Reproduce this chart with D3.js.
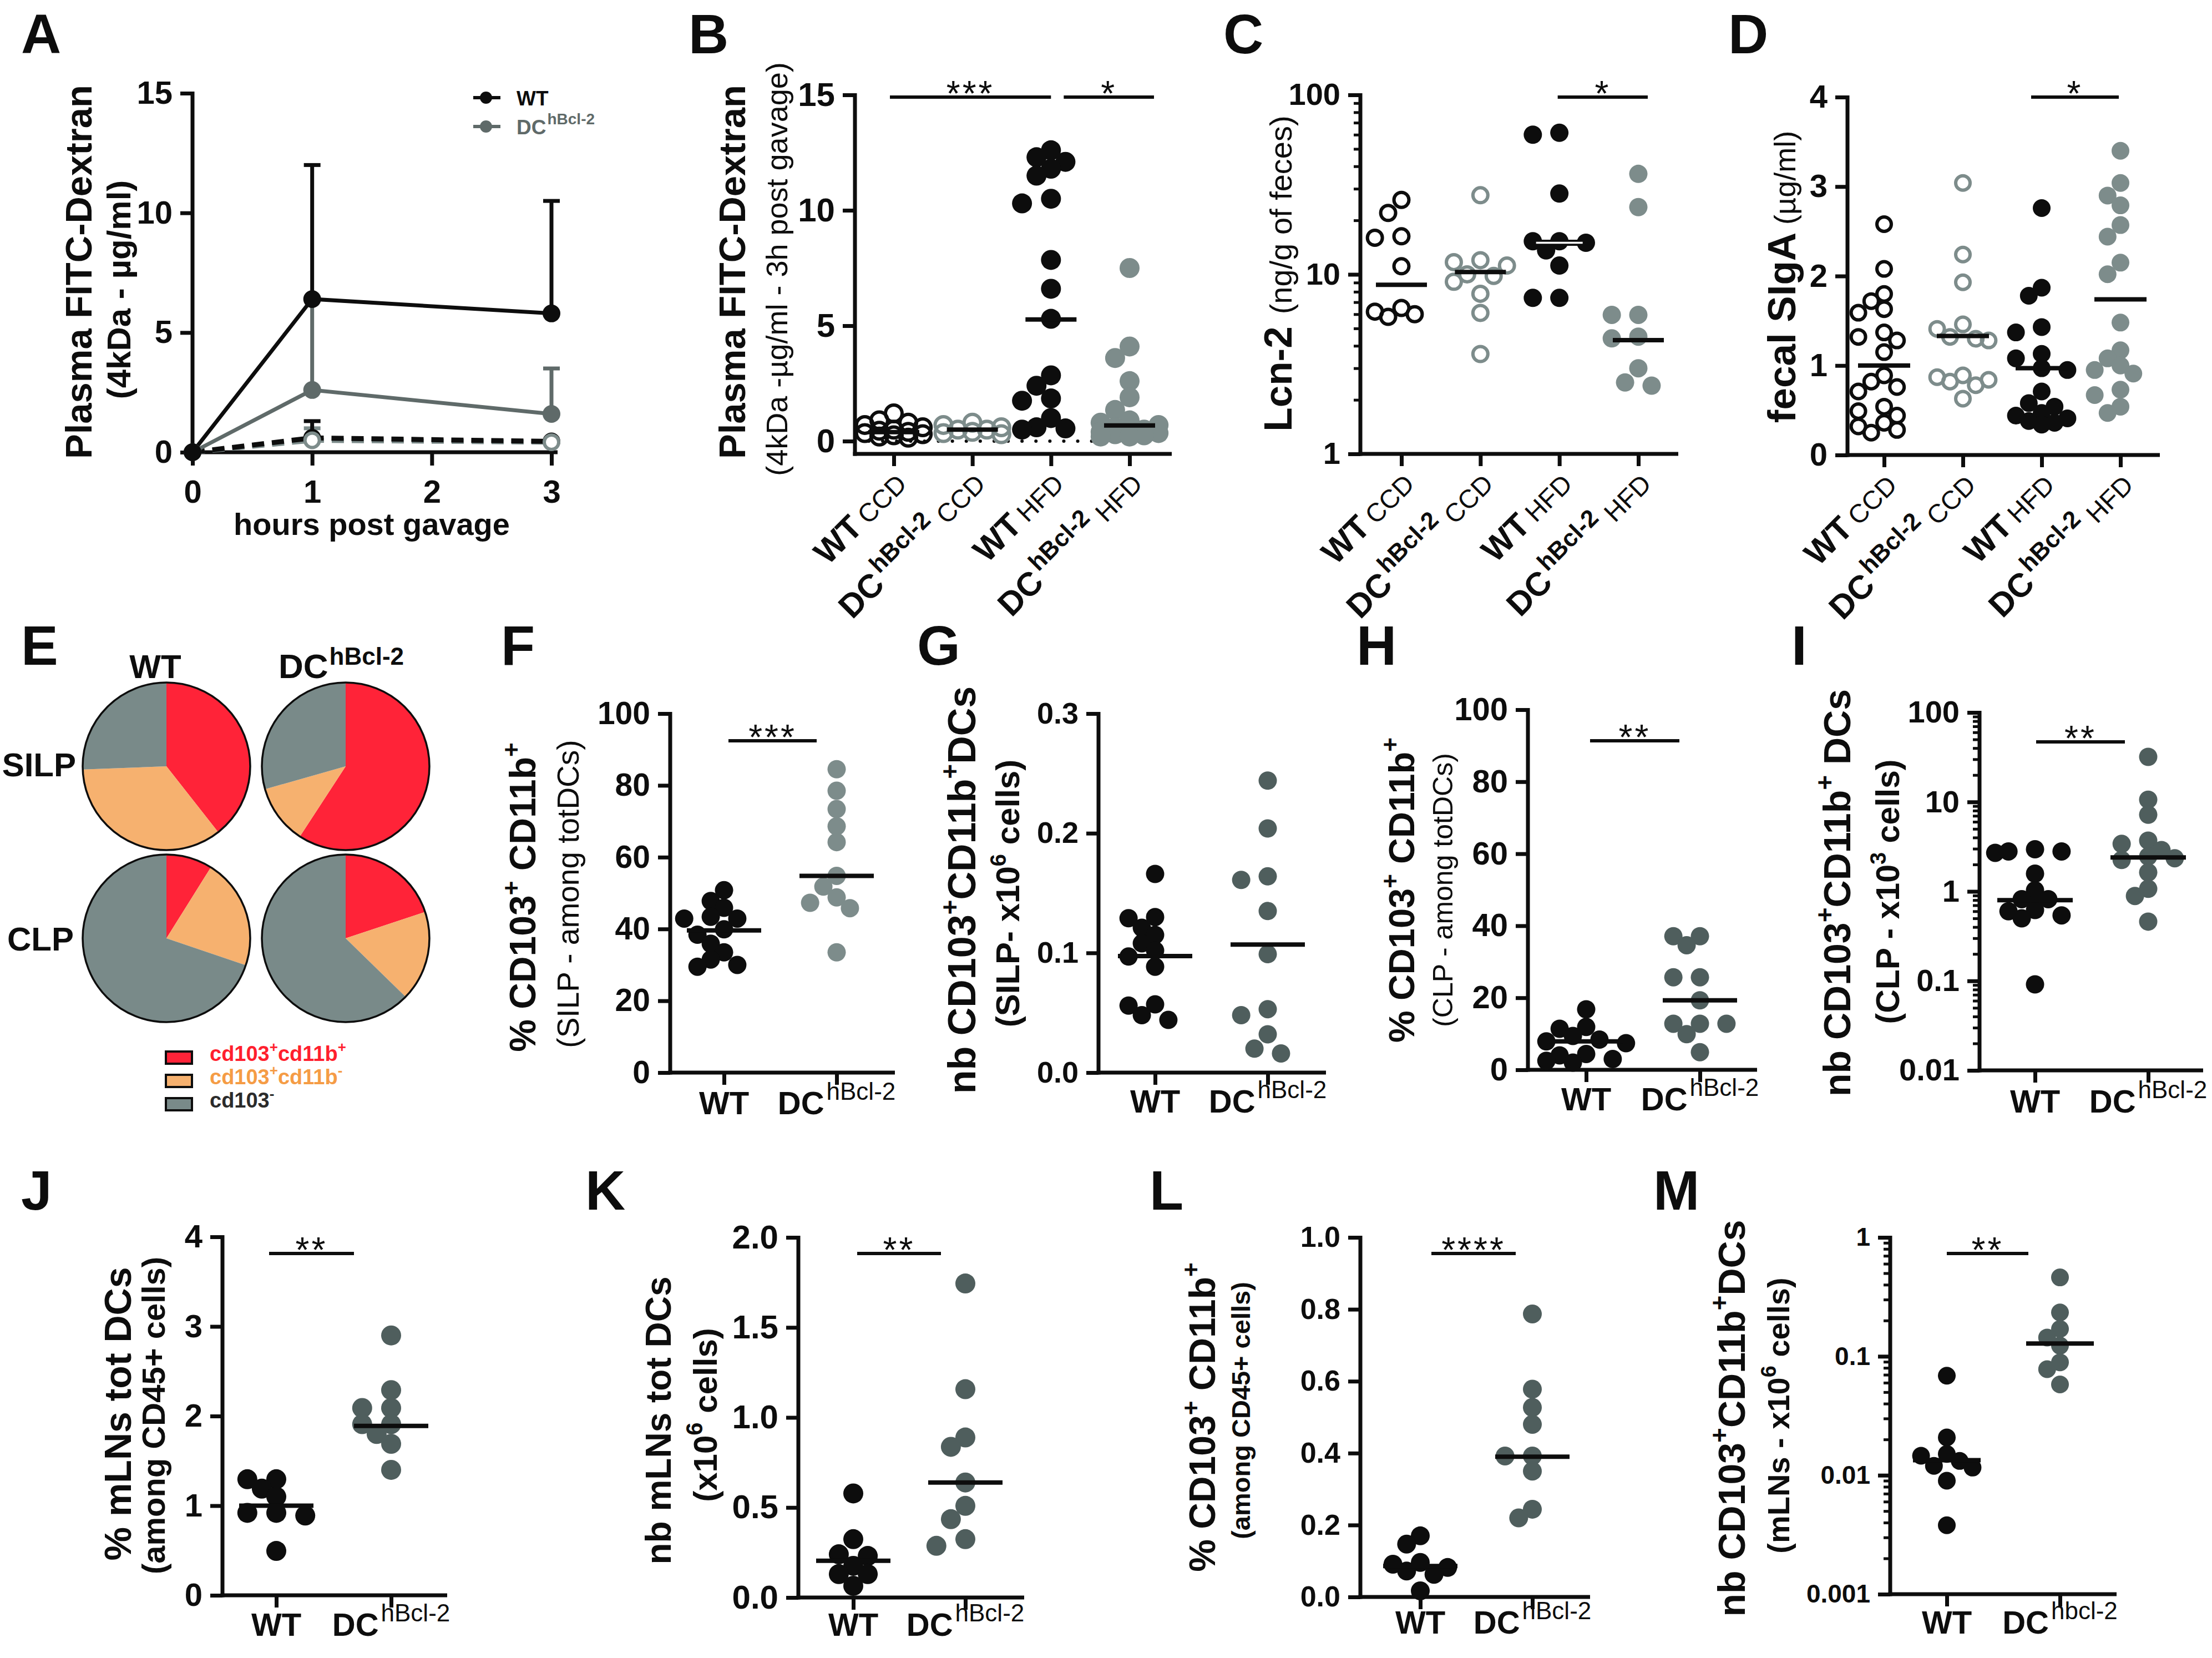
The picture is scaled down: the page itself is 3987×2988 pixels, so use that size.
<!DOCTYPE html>
<html>
<head>
<meta charset="utf-8">
<script src="https://cdn.jsdelivr.net/npm/d3@7"></script>
<style>
body { margin: 0; background: #fff; }
text { font-family: "Liberation Sans", Arial, Helvetica, sans-serif; }
</style>
</head>
<body>
<script>
const W = 3987, H = 2988;
const INK = '#0d0d0d';
const GRAY_L = '#7d8c8b';
const GRAY_D = '#4f5e5d';
const GRAY_A = '#5f6a69';
const PIE_COLORS = ['#ff2338', '#f6b16f', '#798a89'];
const LEGEND_TEXT = ['#ff1f2e', '#f59c45', '#2b2b2b'];

// A - FITC-dextran kinetics (mean, SD)
const hours = [0, 1, 3];
const aWT = [0, 6.4, 5.8];
const aWTsd = [0, 5.6, 4.7];
const aDC = [0, 2.6, 1.6];
const aDCsd = [0, 3.8, 1.9];
const aWTccd = [0, 0.6, 0.45];
const aWTccdSd = [0, 0.7, 0];
const aDCccd = [0, 0.5, 0.42];
const aDCccdSd = [0, 0.5, 0];

// B/C/D categories
const dietCats = ['WT CCD', 'DC CCD', 'WT HFD', 'DC HFD'];
const dietGeno = ['WT', 'DC', 'WT', 'DC'];
const dietName = ['CCD', 'CCD', 'HFD', 'HFD'];

// B - FITC-dextran 3h
const bWTccd = [1.2, 0.9, 0.8, 0.7, 0.6, 0.5, 0.45, 0.4, 0.35, 0.3, 0.25, 0.2, 0.15];
const bDCccd = [0.8, 0.7, 0.6, 0.5, 0.5, 0.4, 0.35, 0.3];
const bWThfd = [12.6, 12.3, 12.1, 11.8, 11.5, 10.5, 10.3, 7.85, 6.6, 5.3, 2.85, 2.4, 1.85, 1.75, 1.0, 0.6, 0.55, 0.5];
const bDChfd = [7.5, 4.1, 3.6, 2.6, 1.9, 1.35, 0.9, 0.8, 0.7, 0.6, 0.5, 0.45, 0.4, 0.35, 0.3, 0.25, 0.2, 0.2];
const bMid = [0.39, 0.5, 5.27, 0.68];

// C - Lcn-2
const cWTccd = [26, 22, 16.3, 16, 11.1, 6.5, 6.2, 6.0, 5.8];
const cDCccd = [27.6, 12.0, 11.7, 11.2, 10.0, 9.8, 9.1, 7.8, 6.1, 3.6];
const cWThfd = [61.5, 60, 28.2, 15.3, 15.3, 15, 13.6, 11.2, 7.4, 7.4];
const cDChfd = [36.3, 23.7, 5.95, 5.95, 4.5, 4.4, 3.0, 2.5, 2.4];
const cMid = [8.75, 10.3, 15, 4.3];

// D - fecal SIgA
const dWTccd = [2.58, 2.08, 1.8, 1.72, 1.63, 1.59, 1.37, 1.32, 1.28, 1.15, 0.89, 0.82, 0.76, 0.71, 0.54, 0.49, 0.44, 0.36, 0.32, 0.28, 0.25];
const dDCccd = [3.04, 2.24, 1.93, 1.46, 1.41, 1.32, 1.3, 1.28, 0.89, 0.87, 0.84, 0.82, 0.78, 0.63];
const dWThfd = [2.76, 1.87, 1.78, 1.43, 1.37, 1.13, 1.08, 0.97, 0.95, 0.71, 0.58, 0.54, 0.47, 0.44, 0.41, 0.38, 0.36, 0.34];
const dDChfd = [3.4, 3.04, 2.9, 2.79, 2.57, 2.44, 2.15, 2.02, 1.48, 1.17, 1.08, 1.0, 0.95, 0.91, 0.73, 0.67, 0.54, 0.47];
const dMid = [1.0, 1.33, 0.97, 1.74];

// E - DC subsets (% of total DCs)
const pieCols = ['WT', 'DC'];
const pieRows = ['SILP', 'CLP'];
const pieSILP = { WT: [39.4, 35.0, 25.6], DC: [59.2, 11.4, 29.4] };
const pieCLP = { WT: [8.9, 21.3, 69.8], DC: [19.9, 17.4, 62.7] };

const geno = ['WT', 'DC'];
// F-M
const fWT = [50.8, 47.8, 45.9, 43.4, 42.9, 42.9, 39.9, 38.4, 35.9, 33.5, 31.5, 30, 29.5];
const fDC = [84.5, 78.5, 73.4, 68.6, 64.2, 54.8, 51.8, 48.8, 47.3, 45.8, 33.5];
const fMid = [39.6, 54.8];
const gWT = [0.166, 0.130, 0.129, 0.121, 0.115, 0.108, 0.102, 0.097, 0.0885, 0.057, 0.056, 0.048, 0.044];
const gDC = [0.244, 0.204, 0.164, 0.161, 0.135, 0.099, 0.053, 0.048, 0.032, 0.020, 0.016];
const gMid = [0.0974, 0.107];
const hWT = [16.8, 11.9, 11.4, 9.4, 8.4, 7.9, 7.4, 4.4, 4.0, 3.0, 2.5, 2.0];
const hDC = [37.1, 37.1, 34.6, 25.7, 25.7, 19.3, 12.8, 12.8, 12.8, 9.9, 4.9];
const hMid = [7.9, 19.3];
const iWT = [2.96, 2.8, 2.8, 2.7, 1.58, 1.03, 0.82, 0.82, 0.62, 0.6, 0.54, 0.5, 0.0915];
const iDC = [31.9, 10.6, 7.2, 3.7, 3.4, 2.9, 2.46, 2.35, 2.25, 1.63, 1.07, 0.89, 0.46];
const iMid = [0.8, 2.4];
const jWT = [1.295, 1.295, 1.19, 1.1, 0.92, 0.92, 0.89, 0.495];
const jDC = [2.9, 2.29, 2.09, 2.09, 1.91, 1.91, 1.8, 1.69, 1.4];
const jMid = [1.0, 1.89];
const kWT = [0.578, 0.324, 0.24, 0.231, 0.176, 0.13, 0.13, 0.065];
const kDC = [1.744, 1.157, 0.889, 0.837, 0.639, 0.509, 0.435, 0.324, 0.287];
const kMid = [0.204, 0.639];
const lWT = [0.17, 0.147, 0.096, 0.091, 0.082, 0.072, 0.063, 0.017];
const lDC = [0.787, 0.578, 0.527, 0.48, 0.392, 0.392, 0.35, 0.244, 0.22];
const lMid = [0.086, 0.39];
const mWT = [0.0687, 0.0208, 0.0151, 0.0146, 0.0132, 0.012, 0.0116, 0.009, 0.0038];
const mDC = [0.461, 0.234, 0.17, 0.144, 0.123, 0.089, 0.078, 0.058];
const mMid = [0.0134, 0.128];

const svg = d3.select('body').append('svg')
  .attr('width', W).attr('height', H)
  .style('background', '#fff');

function addParts(t, parts, base) {
  base = base || {};
  let cur = 0;
  parts.forEach(p => {
    const up = p.up || 0;
    const s = t.append('tspan').text(p.t)
      .attr('font-size', p.s || base.s)
      .attr('font-weight', p.w || base.w || 700);
    if (up !== cur) s.attr('dy', cur - up);
    if (p.dx) s.attr('dx', p.dx);
    if (p.fill) s.attr('fill', p.fill);
    if (p.ls) s.attr('letter-spacing', p.ls);
    cur = up;
  });
  return t;
}

function vTitle(x, y, parts, base) {
  const t = svg.append('text')
    .attr('transform', `translate(${x},${y}) rotate(-90)`)
    .attr('text-anchor', 'middle').attr('fill', INK);
  return addParts(t, parts, base);
}

function letter(ch, x, y) {
  svg.append('text').attr('x', x).attr('y', y).text(ch)
    .attr('font-size', 100).attr('font-weight', 700).attr('fill', INK);
}

function styleAxis(g, fs) {
  g.select('.domain').remove();
  g.selectAll('.tick line').attr('stroke', INK).attr('stroke-width', 7);
  g.selectAll('.tick text').attr('font-size', fs).attr('font-weight', 700)
    .attr('fill', INK).attr('font-family', '"Liberation Sans", Arial, sans-serif');
}

function logMinors(domain) {
  const out = [];
  const e0 = Math.round(Math.log10(domain[0])), e1 = Math.round(Math.log10(domain[1]));
  for (let e = e0; e < e1; e++)
    for (let k = 2; k <= 9; k++) out.push(k * Math.pow(10, e));
  return out;
}

// beeswarm: highest value first, nearest free slot to the centre,
// kept inside +-maxOff (least crowded slot when nothing is free)
function swarm(vals, y, cx, r, maxOff) {
  const placed = [];
  const step = r * 1.45, minD = r * 1.6;
  const nK = 1 + 2 * Math.floor(maxOff / step);
  vals.slice().sort((a, b) => b - a).forEach(v => {
    const py = y(v);
    let best = cx, bestD = -1;
    for (let k = 0; k < nK; k++) {
      const off = k === 0 ? 0 : (k % 2 ? -1 : 1) * Math.ceil(k / 2) * step;
      const px = cx + off;
      const dmin = placed.length ? d3.min(placed, p => Math.hypot(p[0] - px, p[1] - py)) : Infinity;
      if (dmin >= minD) { best = px; break; }
      if (dmin > bestD) { bestD = dmin; best = px; }
    }
    placed.push([best, py]);
  });
  return placed;
}

function dotPanel(p) {
  const g = svg.append('g');
  const y = (p.log ? d3.scaleLog() : d3.scaleLinear()).domain(p.domain).range([p.y0, p.y1]);
  const x = d3.scalePoint().domain(p.cats).range(p.xs);

  const ya = g.append('g').attr('transform', `translate(${p.ax},0)`)
    .call(d3.axisLeft(y).tickValues(p.ticks).tickFormat(p.fmt).tickSize(22).tickPadding(14));
  styleAxis(ya, p.tickFs || 56);
  if (p.log) {
    const mi = g.append('g').attr('transform', `translate(${p.ax},0)`)
      .call(d3.axisLeft(y).tickValues(logMinors(p.domain)).tickFormat('').tickSize(12));
    styleAxis(mi, 10);
    mi.selectAll('.tick line').attr('stroke-width', 5);
  }
  g.append('line').attr('x1', p.ax).attr('x2', p.ax)
    .attr('y1', p.y1 - 3).attr('y2', p.axisY + 3.5)
    .attr('stroke', INK).attr('stroke-width', 7);

  const xa = g.append('g').attr('transform', `translate(0,${p.axisY})`)
    .call(d3.axisBottom(x).tickSize(22).tickFormat(''));
  styleAxis(xa, 10);
  g.append('line').attr('x1', p.ax - 3.5).attr('x2', p.xEnd)
    .attr('y1', p.axisY).attr('y2', p.axisY)
    .attr('stroke', INK).attr('stroke-width', 7);

  if (p.zeroDots) {
    g.append('line').attr('x1', p.zeroDots[0]).attr('x2', p.zeroDots[1])
      .attr('y1', y(0)).attr('y2', y(0))
      .attr('stroke', INK).attr('stroke-width', 6)
      .attr('stroke-linecap', 'round').attr('stroke-dasharray', '0.1,25');
  }

  p.groups.forEach((grp, i) => {
    const pts = swarm(grp.vals, y, x(p.cats[i]), p.r, p.spread);
    g.append('g').selectAll('circle').data(pts).join('circle')
      .attr('cx', d => d[0]).attr('cy', d => d[1])
      .attr('r', grp.open ? p.r - 3 : p.r)
      .attr('fill', grp.open ? 'none' : grp.color)
      .attr('stroke', grp.open ? grp.color : 'none')
      .attr('stroke-width', grp.open ? 6 : 0);
  });
  p.groups.forEach((grp, i) => {
    const cx = x(p.cats[i]);
    g.append('line').attr('x1', cx - p.midW / 2).attr('x2', cx + p.midW / 2)
      .attr('y1', y(grp.mid)).attr('y2', y(grp.mid))
      .attr('stroke', INK).attr('stroke-width', grp.white ? 11 : 8);
    if (grp.white) {
      g.append('line').attr('x1', cx - p.midW / 2 + 4).attr('x2', cx + p.midW / 2 - 4)
        .attr('y1', y(grp.mid)).attr('y2', y(grp.mid))
        .attr('stroke', '#fff').attr('stroke-width', 3.5);
    }
  });

  (p.sig || []).forEach(s => {
    const x1 = x(p.cats[s.a]) + s.da, x2 = x(p.cats[s.b]) + s.db;
    g.append('line').attr('x1', x1).attr('x2', x2).attr('y1', p.sigY).attr('y2', p.sigY)
      .attr('stroke', INK).attr('stroke-width', 6);
    g.append('text').attr('x', (x1 + x2) / 2).attr('y', p.sigY + 16)
      .attr('text-anchor', 'middle').attr('font-size', 64).attr('font-weight', 400)
      .attr('letter-spacing', 4).attr('fill', INK).text(s.t);
  });
  return { g, x, y, tickEnd: p.axisY + 22 };
}

function dietLabels(pan) {
  dietCats.forEach((c, i) => {
    const t = pan.g.append('text')
      .attr('transform', `translate(${pan.x(c) + 26},${pan.tickEnd + 35}) rotate(-45)`)
      .attr('text-anchor', 'end').attr('fill', INK);
    const parts = dietGeno[i] === 'WT'
      ? [{ t: 'WT', s: 60, w: 700 }, { t: dietName[i], s: 47, w: 400, dx: 10 }]
      : [{ t: 'DC', s: 60, w: 700 }, { t: 'hBcl-2', s: 44, w: 700, up: 24, dx: 6 },
         { t: dietName[i], s: 47, w: 400, dx: 14 }];
    addParts(t, parts);
  });
}

function genoLabels(pan, y, sup) {
  pan.g.append('text').attr('x', pan.x('WT')).attr('y', y).attr('text-anchor', 'middle')
    .attr('font-size', 58).attr('font-weight', 700).attr('fill', INK).text('WT');
  const t = pan.g.append('text').attr('x', pan.x('DC')).attr('y', y)
    .attr('text-anchor', 'middle').attr('fill', INK);
  addParts(t, [{ t: 'DC', s: 58, w: 700 }, { t: sup, s: 44, w: 400, up: 26, dx: 4 }]);
}

// ---------------- A ----------------
(function () {
  const x = d3.scaleLinear().domain([0, 3]).range([347, 994]);
  const y = d3.scaleLinear().domain([0, 15]).range([815, 168]);
  const g = svg.append('g');
  const ya = g.append('g').attr('transform', 'translate(347,0)')
    .call(d3.axisLeft(y).tickValues([0, 5, 10, 15]).tickFormat(d3.format('d')).tickSize(22).tickPadding(14));
  styleAxis(ya, 58);
  const xa = g.append('g').attr('transform', 'translate(0,815)')
    .call(d3.axisBottom(x).tickValues([0, 1, 2, 3]).tickFormat(d3.format('d')).tickSize(24).tickPadding(26));
  styleAxis(xa, 58);
  g.append('line').attr('x1', 347).attr('x2', 347).attr('y1', 165).attr('y2', 818)
    .attr('stroke', INK).attr('stroke-width', 7);
  g.append('line').attr('x1', 343.5).attr('x2', 1005).attr('y1', 815).attr('y2', 815)
    .attr('stroke', INK).attr('stroke-width', 7);

  const wtCcd = { m: aWTccd, sd: aWTccdSd, c: INK, dash: true, open: true };
  const dcCcd = { m: aDCccd, sd: aDCccdSd, c: GRAY_L, dash: true, open: true };
  const dc = { m: aDC, sd: aDCsd, c: GRAY_A };
  const wt = { m: aWT, sd: aWTsd, c: INK };
  const line = d3.line().x((d, i) => x(hours[i])).y(d => y(d));
  [dcCcd, wtCcd, dc, wt].forEach(s => {
    hours.forEach((h, i) => {
      if (!s.sd[i]) return;
      g.append('line').attr('x1', x(h)).attr('x2', x(h))
        .attr('y1', y(s.m[i])).attr('y2', y(s.m[i] + s.sd[i]))
        .attr('stroke', s.c).attr('stroke-width', 7);
      g.append('line').attr('x1', x(h) - 15).attr('x2', x(h) + 15)
        .attr('y1', y(s.m[i] + s.sd[i])).attr('y2', y(s.m[i] + s.sd[i]))
        .attr('stroke', s.c).attr('stroke-width', 7);
    });
    g.append('path').attr('d', line(s.m)).attr('fill', 'none')
      .attr('stroke', s.c).attr('stroke-width', s.dash ? 9 : 7)
      .attr('stroke-dasharray', s.dash ? '22,14' : null);
  });
  [wtCcd, dcCcd, dc, wt].forEach(s => {
    g.append('g').selectAll('circle').data(s.m).join('circle')
      .attr('cx', (d, i) => x(hours[i])).attr('cy', d => y(d))
      .attr('r', s.open ? 13 : 16)
      .attr('fill', s.open ? '#fff' : s.c)
      .attr('stroke', s.open ? s.c : 'none').attr('stroke-width', 6);
  });
  // legend
  [{ c: INK, y: 176, lab: [{ t: 'WT', s: 37, w: 700 }] },
   { c: GRAY_A, y: 228, lab: [{ t: 'DC', s: 37, w: 700 }, { t: 'hBcl-2', s: 28, w: 700, up: 18, dx: 2 }] }]
    .forEach(l => {
      g.append('line').attr('x1', 853).attr('x2', 902).attr('y1', l.y).attr('y2', l.y)
        .attr('stroke', l.c).attr('stroke-width', 6);
      g.append('circle').attr('cx', 876).attr('cy', l.y).attr('r', 11).attr('fill', l.c);
      addParts(g.append('text').attr('x', 931).attr('y', l.y + 14).attr('fill', l.c), l.lab);
    });
  g.append('text').attr('x', 670).attr('y', 964).attr('text-anchor', 'middle')
    .attr('font-size', 56).attr('font-weight', 700).attr('fill', INK).text('hours post gavage');
  vTitle(165, 490, [{ t: 'Plasma FITC-Dextran', s: 67, w: 700 }]);
  vTitle(235, 522, [{ t: '(4kDa - µg/ml)', s: 60, w: 700 }]);
  letter('A', 38, 96);
})();

// ---------------- B ----------------
const pB = dotPanel({
  cats: dietCats, xs: [1611, 2036], ax: 1541, axisY: 818, xEnd: 2112,
  domain: [0, 15], y0: 795, y1: 171, ticks: [0, 5, 10, 15], fmt: d3.format('d'), tickFs: 60,
  r: 18, midW: 92, spread: 56, zeroDots: [1566, 2090],
  groups: [
    { vals: bWTccd, mid: bMid[0], color: INK, open: true },
    { vals: bDCccd, mid: bMid[1], color: GRAY_L, open: true },
    { vals: bWThfd, mid: bMid[2], color: INK },
    { vals: bDChfd, mid: bMid[3], color: GRAY_L }
  ],
  sigY: 175, sig: [{ a: 0, b: 2, da: -7, db: 0, t: '***' }, { a: 2, b: 3, da: 23, db: 44, t: '*' }]
});
dietLabels(pB);
vTitle(1343, 490, [{ t: 'Plasma FITC-Dextran', s: 67, w: 700 }]);
vTitle(1419, 485, [{ t: '(4kDa -µg/ml - 3h post gavage)', s: 54, w: 400 }]);
letter('B', 1241, 96);

// ---------------- C ----------------
const pC = dotPanel({
  cats: dietCats, xs: [2526, 2953], ax: 2452, axisY: 818, xEnd: 3025, log: true,
  domain: [1, 100], y0: 818, y1: 171, ticks: [1, 10, 100], fmt: d3.format('~g'), tickFs: 56,
  r: 16.5, midW: 92, spread: 50,
  groups: [
    { vals: cWTccd, mid: cMid[0], color: INK, open: true },
    { vals: cDCccd, mid: cMid[1], color: GRAY_L, open: true },
    { vals: cWThfd, mid: cMid[2], color: INK, white: true },
    { vals: cDChfd, mid: cMid[3], color: GRAY_L }
  ],
  sigY: 175, sig: [{ a: 2, b: 3, da: -3, db: 17, t: '*' }]
});
dietLabels(pC);
vTitle(2328, 493, [{ t: 'Lcn-2', s: 71, w: 700 }, { t: '(ng/g of feces)', s: 56, w: 400, dx: 22 }]);
letter('C', 2205, 96);

// ---------------- D ----------------
const pD = dotPanel({
  cats: dietCats, xs: [3396, 3822], ax: 3330, axisY: 820, xEnd: 3893,
  domain: [0, 4], y0: 820, y1: 175, ticks: [0, 1, 2, 3, 4], fmt: d3.format('d'), tickFs: 58,
  r: 16, midW: 94, spread: 50,
  groups: [
    { vals: dWTccd, mid: dMid[0], color: INK, open: true },
    { vals: dDCccd, mid: dMid[1], color: GRAY_L, open: true },
    { vals: dWThfd, mid: dMid[2], color: INK },
    { vals: dDChfd, mid: dMid[3], color: GRAY_L }
  ],
  sigY: 175, sig: [{ a: 2, b: 3, da: -19, db: -3, t: '*' }]
});
dietLabels(pD);
vTitle(3236, 499, [{ t: 'fecal SIgA', s: 71, w: 700 }, { t: '(µg/ml)', s: 54, w: 400, dx: 14 }]);
letter('D', 3115, 96);

// ---------------- E ----------------
(function () {
  const col = d3.scalePoint().domain(pieCols).range([300, 623]);
  const row = d3.scalePoint().domain(pieRows).range([1381, 1691]);
  const R = 151;
  const pie = d3.pie().sort(null).value(d => d);
  const arc = d3.arc().innerRadius(0).outerRadius(R);
  const g = svg.append('g');
  const shares = { SILP: pieSILP, CLP: pieCLP };
  pieRows.forEach(r => pieCols.forEach(c => {
    const pg = g.append('g').attr('transform', `translate(${col(c)},${row(r)})`);
    pg.selectAll('path').data(pie(shares[r][c])).join('path')
      .attr('d', arc).attr('fill', (d, i) => PIE_COLORS[i]);
    pg.append('circle').attr('r', R).attr('fill', 'none').attr('stroke', INK).attr('stroke-width', 3.5);
  }));
  const lato = 'Lato, "Open Sans", sans-serif';
  g.append('text').attr('x', col('WT') - 20).attr('y', 1222).attr('text-anchor', 'middle')
    .attr('font-family', lato).attr('font-size', 60).attr('font-weight', 700).attr('fill', INK).text('WT');
  addParts(g.append('text').attr('x', col('DC') - 8).attr('y', 1222).attr('text-anchor', 'middle')
    .attr('font-family', lato).attr('fill', INK),
    [{ t: 'DC', s: 62, w: 700 }, { t: 'hBcl-2', s: 44, w: 700, up: 24, dx: 2 }]);
  g.append('text').attr('x', 137).attr('y', row('SILP') + 18).attr('text-anchor', 'end')
    .attr('font-family', lato).attr('font-size', 60).attr('font-weight', 700).attr('fill', INK).text('SILP');
  g.append('text').attr('x', 133).attr('y', row('CLP') + 22).attr('text-anchor', 'end')
    .attr('font-family', lato).attr('font-size', 60).attr('font-weight', 700).attr('fill', INK).text('CLP');
  const legend = [
    [{ t: 'cd103' }, { t: '+', s: 26, up: 16 }, { t: 'cd11b' }, { t: '+', s: 26, up: 16 }],
    [{ t: 'cd103' }, { t: '+', s: 26, up: 16 }, { t: 'cd11b' }, { t: '-', s: 26, up: 16 }],
    [{ t: 'cd103' }, { t: '-', s: 26, up: 16 }]
  ];
  legend.forEach((parts, i) => {
    const by = 1912 + i * 42;
    g.append('rect').attr('x', 299).attr('y', by - 17).attr('width', 47).attr('height', 22)
      .attr('fill', PIE_COLORS[i]).attr('stroke', INK).attr('stroke-width', 4);
    addParts(g.append('text').attr('x', 378).attr('y', by).attr('fill', LEGEND_TEXT[i]),
      parts, { s: 38, w: 700 });
  });
  letter('E', 38, 1198);
})();

// ---------------- F ----------------
const pF = dotPanel({
  cats: geno, xs: [1305, 1508], ax: 1208, axisY: 1933, xEnd: 1613,
  domain: [0, 100], y0: 1933, y1: 1286, ticks: d3.range(0, 101, 20), fmt: d3.format('d'), tickFs: 57,
  r: 16.5, midW: 134, spread: 75,
  groups: [{ vals: fWT, mid: fMid[0], color: INK }, { vals: fDC, mid: fMid[1], color: GRAY_L }],
  sigY: 1335, sig: [{ a: 0, b: 1, da: 8, db: -36, t: '***' }]
});
genoLabels(pF, 2008, 'hBcl-2');
vTitle(965, 1617, [{ t: '% CD103' }, { t: '+', s: 44, up: 28 }, { t: ' CD11b' }, { t: '+', s: 44, up: 28 }], { s: 66, w: 700 });
vTitle(1043, 1611, [{ t: '(SILP - among totDCs)', s: 55, w: 400 }]);
letter('F', 903, 1198);

// ---------------- G ----------------
const pG = dotPanel({
  cats: geno, xs: [2082, 2285], ax: 1980, axisY: 1933, xEnd: 2390,
  domain: [0, 0.3], y0: 1933, y1: 1286, ticks: [0, 0.1, 0.2, 0.3], fmt: d3.format('.1f'), tickFs: 54,
  r: 16.5, midW: 134, spread: 75,
  groups: [{ vals: gWT, mid: gMid[0], color: INK }, { vals: gDC, mid: gMid[1], color: GRAY_D }]
});
genoLabels(pG, 2005, 'hBcl-2');
vTitle(1758, 1604, [{ t: 'nb CD103' }, { t: '+', s: 46, up: 30 }, { t: 'CD11b' }, { t: '+', s: 46, up: 30 }, { t: 'DCs' }], { s: 70, w: 700 });
vTitle(1837, 1610, [{ t: '(SILP- x10' }, { t: '6', s: 40, up: 24 }, { t: ' cells)' }], { s: 60, w: 700 });
letter('G', 1653, 1198);

// ---------------- H ----------------
const pH = dotPanel({
  cats: geno, xs: [2859, 3064], ax: 2754, axisY: 1928, xEnd: 3167,
  domain: [0, 100], y0: 1928, y1: 1279, ticks: d3.range(0, 101, 20), fmt: d3.format('d'), tickFs: 58,
  r: 16.5, midW: 134, spread: 75,
  groups: [{ vals: hWT, mid: hMid[0], color: INK }, { vals: hDC, mid: hMid[1], color: GRAY_D }],
  sigY: 1335, sig: [{ a: 0, b: 1, da: 7, db: -37, t: '**' }]
});
genoLabels(pH, 2001, 'hBcl-2');
vTitle(2549, 1604, [{ t: '% CD103' }, { t: '+', s: 44, up: 28 }, { t: ' CD11b' }, { t: '+', s: 44, up: 28 }], { s: 65, w: 700 });
vTitle(2618, 1604, [{ t: '(CLP - among totDCs)', s: 50, w: 400 }]);
letter('H', 2445, 1198);

// ---------------- I ----------------
const pI = dotPanel({
  cats: geno, xs: [3668, 3872], ax: 3568, axisY: 1929, xEnd: 3971, log: true,
  domain: [0.01, 100], y0: 1929, y1: 1284, ticks: [0.01, 0.1, 1, 10, 100], fmt: d3.format('~g'), tickFs: 56,
  r: 16.5, midW: 136, spread: 75,
  groups: [{ vals: iWT, mid: iMid[0], color: INK }, { vals: iDC, mid: iMid[1], color: GRAY_D }],
  sigY: 1337, sig: [{ a: 0, b: 1, da: 2, db: -42, t: '**' }]
});
genoLabels(pI, 2005, 'hBcl-2');
vTitle(3335, 1609, [{ t: 'nb CD103' }, { t: '+', s: 46, up: 30 }, { t: 'CD11b' }, { t: '+', s: 46, up: 30 }, { t: ' DCs' }], { s: 68, w: 700 });
vTitle(3423, 1607, [{ t: '(CLP - x10' }, { t: '3', s: 40, up: 24 }, { t: ' cells)' }], { s: 59, w: 700 });
letter('I', 3229, 1198);

// ---------------- J ----------------
const pJ = dotPanel({
  cats: geno, xs: [498, 705], ax: 401, axisY: 2875, xEnd: 806,
  domain: [0, 4], y0: 2875, y1: 2229, ticks: [0, 1, 2, 3, 4], fmt: d3.format('d'), tickFs: 58,
  r: 18, midW: 134, spread: 75,
  groups: [{ vals: jWT, mid: jMid[0], color: INK }, { vals: jDC, mid: jMid[1], color: GRAY_D }],
  sigY: 2259, sig: [{ a: 0, b: 1, da: -13, db: -67, t: '**' }]
});
genoLabels(pJ, 2948, 'hBcl-2');
vTitle(236, 2548, [{ t: '% mLNs tot DCs', s: 68, w: 700 }]);
vTitle(297, 2551, [{ t: '(among CD45+ cells)', s: 58, w: 700 }]);
letter('J', 38, 2180);

// ---------------- K ----------------
const pK = dotPanel({
  cats: geno, xs: [1538, 1740], ax: 1439, axisY: 2879, xEnd: 1846,
  domain: [0, 2], y0: 2879, y1: 2230, ticks: [0, 0.5, 1, 1.5, 2], fmt: d3.format('.1f'), tickFs: 60,
  r: 18, midW: 134, spread: 75,
  groups: [{ vals: kWT, mid: kMid[0], color: INK }, { vals: kDC, mid: kMid[1], color: GRAY_D }],
  sigY: 2259, sig: [{ a: 0, b: 1, da: 7, db: -44, t: '**' }]
});
genoLabels(pK, 2948, 'hBcl-2');
vTitle(1209, 2560, [{ t: 'nb mLNs tot DCs', s: 64, w: 700 }]);
vTitle(1292, 2550, [{ t: '(x10' }, { t: '6', s: 42, up: 26 }, { t: ' cells)' }], { s: 60, w: 700 });
letter('K', 1055, 2180);

// ---------------- L ----------------
const pL = dotPanel({
  cats: geno, xs: [2560, 2762], ax: 2452, axisY: 2878, xEnd: 2866,
  domain: [0, 1], y0: 2878, y1: 2230, ticks: [0, 0.2, 0.4, 0.6, 0.8, 1], fmt: d3.format('.1f'), tickFs: 52,
  r: 17, midW: 134, spread: 75,
  groups: [{ vals: lWT, mid: lMid[0], color: INK }, { vals: lDC, mid: lMid[1], color: GRAY_D }],
  sigY: 2259, sig: [{ a: 0, b: 1, da: 20, db: -30, t: '****' }]
});
genoLabels(pL, 2944, 'hBcl-2');
vTitle(2190, 2554, [{ t: '% CD103' }, { t: '+', s: 44, up: 28 }, { t: ' CD11b' }, { t: '+', s: 44, up: 28 }], { s: 66, w: 700 });
vTitle(2253, 2542, [{ t: '(among CD45+ cells)', s: 47, w: 700 }]);
letter('L', 2072, 2180);

// ---------------- M ----------------
const pM = dotPanel({
  cats: geno, xs: [3509, 3713], ax: 3407, axisY: 2873, xEnd: 3815, log: true,
  domain: [0.001, 1], y0: 2873, y1: 2230, ticks: [0.001, 0.01, 0.1, 1], fmt: d3.format('~g'), tickFs: 46,
  r: 16, midW: 122, spread: 70,
  groups: [{ vals: mWT, mid: mMid[0], color: INK }, { vals: mDC, mid: mMid[1], color: GRAY_D }],
  sigY: 2259, sig: [{ a: 0, b: 1, da: 0, db: -57, t: '**' }]
});
genoLabels(pM, 2944, 'hbcl-2');
vTitle(3145, 2556, [{ t: 'nb CD103' }, { t: '+', s: 46, up: 30 }, { t: 'CD11b' }, { t: '+', s: 46, up: 30 }, { t: 'DCs' }], { s: 68, w: 700 });
vTitle(3225, 2551, [{ t: '(mLNs - x10' }, { t: '6', s: 38, up: 24 }, { t: ' cells)' }], { s: 56, w: 700, ls: 3 });
letter('M', 2980, 2180);
</script>
</body>
</html>
